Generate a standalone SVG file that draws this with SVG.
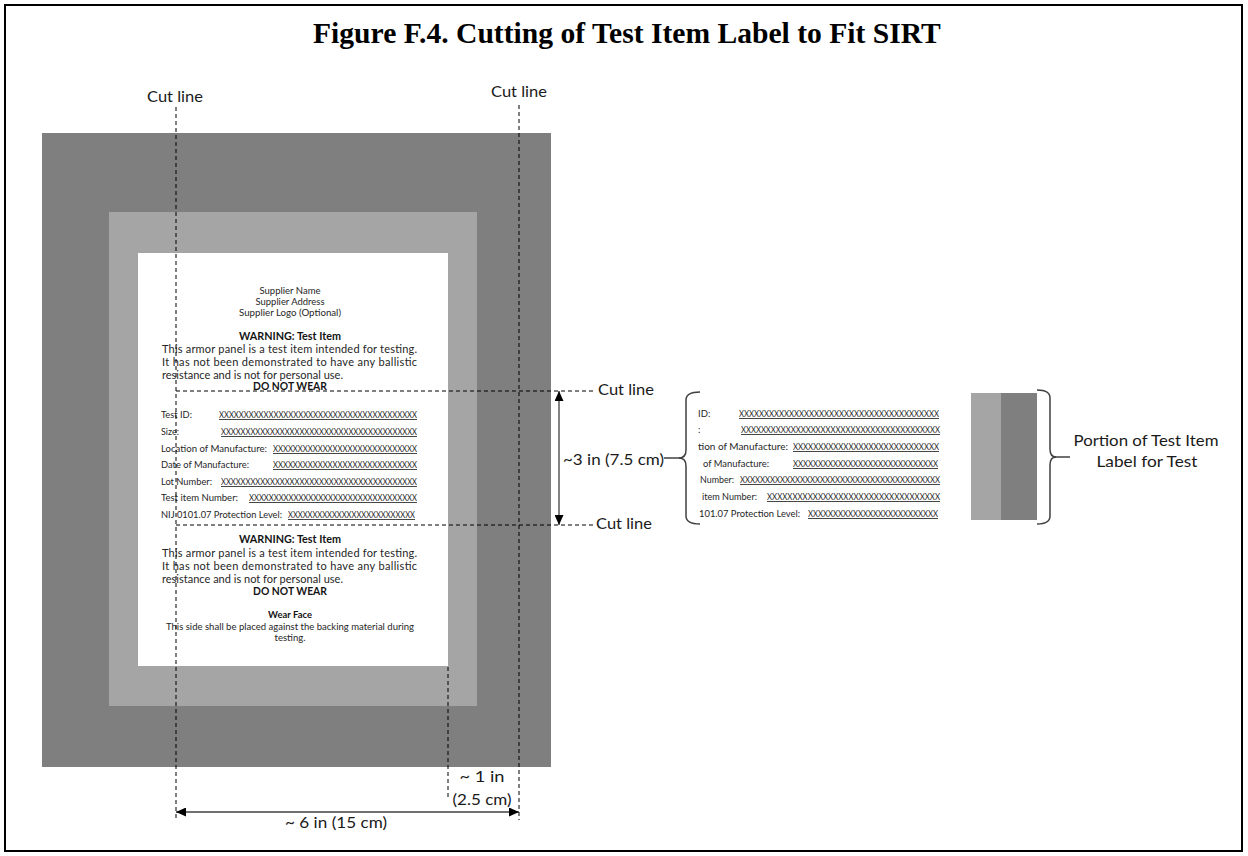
<svg xmlns="http://www.w3.org/2000/svg" width="1248" height="856" viewBox="0 0 1248 856">
<defs>
<style>
.frame{fill:#fff;stroke:#000;stroke-width:2}
.title{font-family:"Liberation Serif","Times New Roman",serif;font-weight:bold;font-size:29.6px;fill:#000}
.lab{font-family:Lato,"Liberation Sans",sans-serif;font-size:16px;fill:#1a1a1a}
.lb{font-family:Lato,"Liberation Sans",sans-serif;fill:#262626}
.s9{font-size:9px}
.s10{font-size:11px}
.b{font-weight:bold;fill:#141414}
.f{font-size:9.5px}
.xx{font-size:8.5px;text-decoration:underline}
.cut{fill:none;stroke:#000;stroke-width:1;stroke-dasharray:4 3}
.dim{fill:none;stroke:#404040;stroke-width:1.3}
.brk{fill:none;stroke:#404040;stroke-width:1.5}
.dark{fill:#7f7f7f}
.light{fill:#a5a5a5}
</style>
<marker id="ah" viewBox="0 0 10 9" refX="10" refY="4.5" markerWidth="10" markerHeight="9" markerUnits="userSpaceOnUse" orient="auto-start-reverse">
<path d="M0,0 L10,4.5 L0,9 z" fill="#000"/>
</marker>
</defs>

<rect class="frame" x="5" y="5" width="1237" height="846"/>
<text class="title" x="313" y="43">Figure F.4. Cutting of Test Item Label to Fit SIRT</text>

<g id="panel">
<rect class="dark" x="42" y="133" width="509" height="634"/>
<rect class="light" x="109" y="212" width="368" height="494"/>
</g>

<g id="label">
<rect x="138" y="253" width="310" height="413" fill="#fff"/>
<text class="lb s9" x="290" y="294" text-anchor="middle" textLength="61" lengthAdjust="spacingAndGlyphs">Supplier Name</text>
<text class="lb s9" x="290" y="305" text-anchor="middle" textLength="69" lengthAdjust="spacingAndGlyphs">Supplier Address</text>
<text class="lb s9" x="290" y="316" text-anchor="middle" textLength="102" lengthAdjust="spacingAndGlyphs">Supplier Logo (Optional)</text>
<text class="lb s10 b" x="290" y="340" text-anchor="middle" textLength="102" lengthAdjust="spacingAndGlyphs">WARNING: Test Item</text>
<text class="lb s10" x="162" y="353" textLength="255" lengthAdjust="spacing">This armor panel is a test item intended for testing.</text>
<text class="lb s10" x="162" y="366" textLength="255" lengthAdjust="spacing">It has not been demonstrated to have any ballistic</text>
<text class="lb s10" x="162" y="379" textLength="181" lengthAdjust="spacing">resistance and is not for personal use.</text>
<text class="lb s10 b" x="290" y="390" text-anchor="middle" textLength="74" lengthAdjust="spacingAndGlyphs">DO NOT WEAR</text>

<text class="lb f" x="161" y="418" textLength="31" lengthAdjust="spacingAndGlyphs">Test ID:</text>
<text class="lb xx" x="219" y="418" textLength="198" lengthAdjust="spacingAndGlyphs">XXXXXXXXXXXXXXXXXXXXXXXXXXXXXXXXXXXXXXXX</text>
<text class="lb f" x="161" y="435" textLength="18" lengthAdjust="spacingAndGlyphs">Size:</text>
<text class="lb xx" x="221" y="435" textLength="196" lengthAdjust="spacingAndGlyphs">XXXXXXXXXXXXXXXXXXXXXXXXXXXXXXXXXXXXXXXX</text>
<text class="lb f" x="161" y="452" textLength="106" lengthAdjust="spacingAndGlyphs">Location of Manufacture:</text>
<text class="lb xx" x="273" y="452" textLength="144" lengthAdjust="spacingAndGlyphs">XXXXXXXXXXXXXXXXXXXXXXXXXXXXX</text>
<text class="lb f" x="161" y="468" textLength="88" lengthAdjust="spacingAndGlyphs">Date of Manufacture:</text>
<text class="lb xx" x="273" y="468" textLength="144" lengthAdjust="spacingAndGlyphs">XXXXXXXXXXXXXXXXXXXXXXXXXXXXX</text>
<text class="lb f" x="161" y="485" textLength="51" lengthAdjust="spacingAndGlyphs">Lot Number:</text>
<text class="lb xx" x="221" y="485" textLength="196" lengthAdjust="spacingAndGlyphs">XXXXXXXXXXXXXXXXXXXXXXXXXXXXXXXXXXXXXXXX</text>
<text class="lb f" x="161" y="501" textLength="77" lengthAdjust="spacingAndGlyphs">Test item Number:</text>
<text class="lb xx" x="249" y="501" textLength="168" lengthAdjust="spacingAndGlyphs">XXXXXXXXXXXXXXXXXXXXXXXXXXXXXXXXXX</text>
<text class="lb f" x="161" y="518" textLength="121" lengthAdjust="spacingAndGlyphs">NIJ 0101.07 Protection Level:</text>
<text class="lb xx" x="288" y="518" textLength="127" lengthAdjust="spacingAndGlyphs">XXXXXXXXXXXXXXXXXXXXXXXXXX</text>

<text class="lb s10 b" x="290" y="543" text-anchor="middle" textLength="102" lengthAdjust="spacingAndGlyphs">WARNING: Test Item</text>
<text class="lb s10" x="162" y="557" textLength="255" lengthAdjust="spacing">This armor panel is a test item intended for testing.</text>
<text class="lb s10" x="162" y="570" textLength="255" lengthAdjust="spacing">It has not been demonstrated to have any ballistic</text>
<text class="lb s10" x="162" y="583" textLength="181" lengthAdjust="spacing">resistance and is not for personal use.</text>
<text class="lb s10 b" x="290" y="595" text-anchor="middle" textLength="74" lengthAdjust="spacingAndGlyphs">DO NOT WEAR</text>
<text class="lb s9 b" x="290" y="618" text-anchor="middle" textLength="44" lengthAdjust="spacingAndGlyphs">Wear Face</text>
<text class="lb s9" x="166" y="630" textLength="248" lengthAdjust="spacingAndGlyphs">This side shall be placed against the backing material during</text>
<text class="lb s9" x="290" y="641" text-anchor="middle" textLength="31" lengthAdjust="spacingAndGlyphs">testing.</text>
</g>

<g id="excerpt">
<text class="lb f" x="698" y="417">ID:</text>
<text class="lb xx" x="739" y="417" textLength="200" lengthAdjust="spacingAndGlyphs">XXXXXXXXXXXXXXXXXXXXXXXXXXXXXXXXXXXXXXXX</text>
<text class="lb f" x="698" y="433">:</text>
<text class="lb xx" x="741" y="433" textLength="199" lengthAdjust="spacingAndGlyphs">XXXXXXXXXXXXXXXXXXXXXXXXXXXXXXXXXXXXXXXX</text>
<text class="lb f" x="698" y="450" textLength="90" lengthAdjust="spacingAndGlyphs">tion of Manufacture:</text>
<text class="lb xx" x="793" y="450" textLength="146" lengthAdjust="spacingAndGlyphs">XXXXXXXXXXXXXXXXXXXXXXXXXXXXX</text>
<text class="lb f" x="703" y="467" textLength="66" lengthAdjust="spacingAndGlyphs">of Manufacture:</text>
<text class="lb xx" x="793" y="467" textLength="145" lengthAdjust="spacingAndGlyphs">XXXXXXXXXXXXXXXXXXXXXXXXXXXXX</text>
<text class="lb f" x="700" y="483" textLength="34" lengthAdjust="spacingAndGlyphs">Number:</text>
<text class="lb xx" x="740" y="483" textLength="200" lengthAdjust="spacingAndGlyphs">XXXXXXXXXXXXXXXXXXXXXXXXXXXXXXXXXXXXXXXX</text>
<text class="lb f" x="702" y="500" textLength="55" lengthAdjust="spacingAndGlyphs">item Number:</text>
<text class="lb xx" x="767" y="500" textLength="173" lengthAdjust="spacingAndGlyphs">XXXXXXXXXXXXXXXXXXXXXXXXXXXXXXXXXX</text>
<text class="lb f" x="699" y="517" textLength="101" lengthAdjust="spacingAndGlyphs">101.07 Protection Level:</text>
<text class="lb xx" x="808" y="517" textLength="130" lengthAdjust="spacingAndGlyphs">XXXXXXXXXXXXXXXXXXXXXXXXXX</text>
</g>

<g id="portion">
<rect class="light" x="971" y="393" width="30" height="127"/>
<rect class="dark" x="1001" y="393" width="36" height="127"/>
<text class="lab" x="1146" y="446" text-anchor="middle" textLength="145" lengthAdjust="spacingAndGlyphs">Portion of Test Item</text>
<text class="lab" x="1147" y="467" text-anchor="middle" textLength="101" lengthAdjust="spacingAndGlyphs">Label for Test</text>
</g>

<g id="labels">
<text class="lab" x="175" y="102" text-anchor="middle" textLength="56" lengthAdjust="spacingAndGlyphs">Cut line</text>
<text class="lab" x="519" y="97" text-anchor="middle" textLength="56" lengthAdjust="spacingAndGlyphs">Cut line</text>
<text class="lab" x="598" y="395" textLength="56" lengthAdjust="spacingAndGlyphs">Cut line</text>
<text class="lab" x="596" y="529" textLength="56" lengthAdjust="spacingAndGlyphs">Cut line</text>
<text class="lab" x="563" y="465" textLength="101" lengthAdjust="spacingAndGlyphs">~3 in (7.5 cm)</text>
<text class="lab" x="482" y="782" text-anchor="middle" textLength="45" lengthAdjust="spacingAndGlyphs">~ 1 in</text>
<text class="lab" x="482" y="805" text-anchor="middle" textLength="59" lengthAdjust="spacingAndGlyphs">(2.5 cm)</text>
<text class="lab" x="336" y="828" text-anchor="middle" textLength="102" lengthAdjust="spacingAndGlyphs">~ 6 in (15 cm)</text>
</g>

<g id="connectors">
<line class="cut" x1="176" y1="107" x2="176" y2="820"/>
<line class="cut" x1="519" y1="105" x2="519" y2="820"/>
<line class="cut" x1="176" y1="391" x2="594" y2="391"/>
<line class="cut" x1="176" y1="525" x2="594" y2="525"/>
<line class="cut" x1="448" y1="667" x2="448" y2="797"/>
<line class="dim" x1="559" y1="391" x2="559" y2="525" marker-start="url(#ah)" marker-end="url(#ah)"/>
<line class="dim" x1="176" y1="812" x2="519" y2="812" marker-start="url(#ah)" marker-end="url(#ah)"/>
<line class="brk" x1="664" y1="458" x2="680" y2="458"/>
<path class="brk" d="M700,392 Q686,392 686,400 L686,450 Q686,458 679,458 Q686,458 686,466 L686,516 Q686,524 700,524"/>
<path class="brk" d="M1037,390 Q1050,390 1050,398 L1050,449 Q1050,457 1056,457 Q1050,457 1050,465 L1050,516 Q1050,524 1037,524"/>
<line class="brk" x1="1054" y1="457" x2="1070" y2="457"/>
</g>
</svg>
